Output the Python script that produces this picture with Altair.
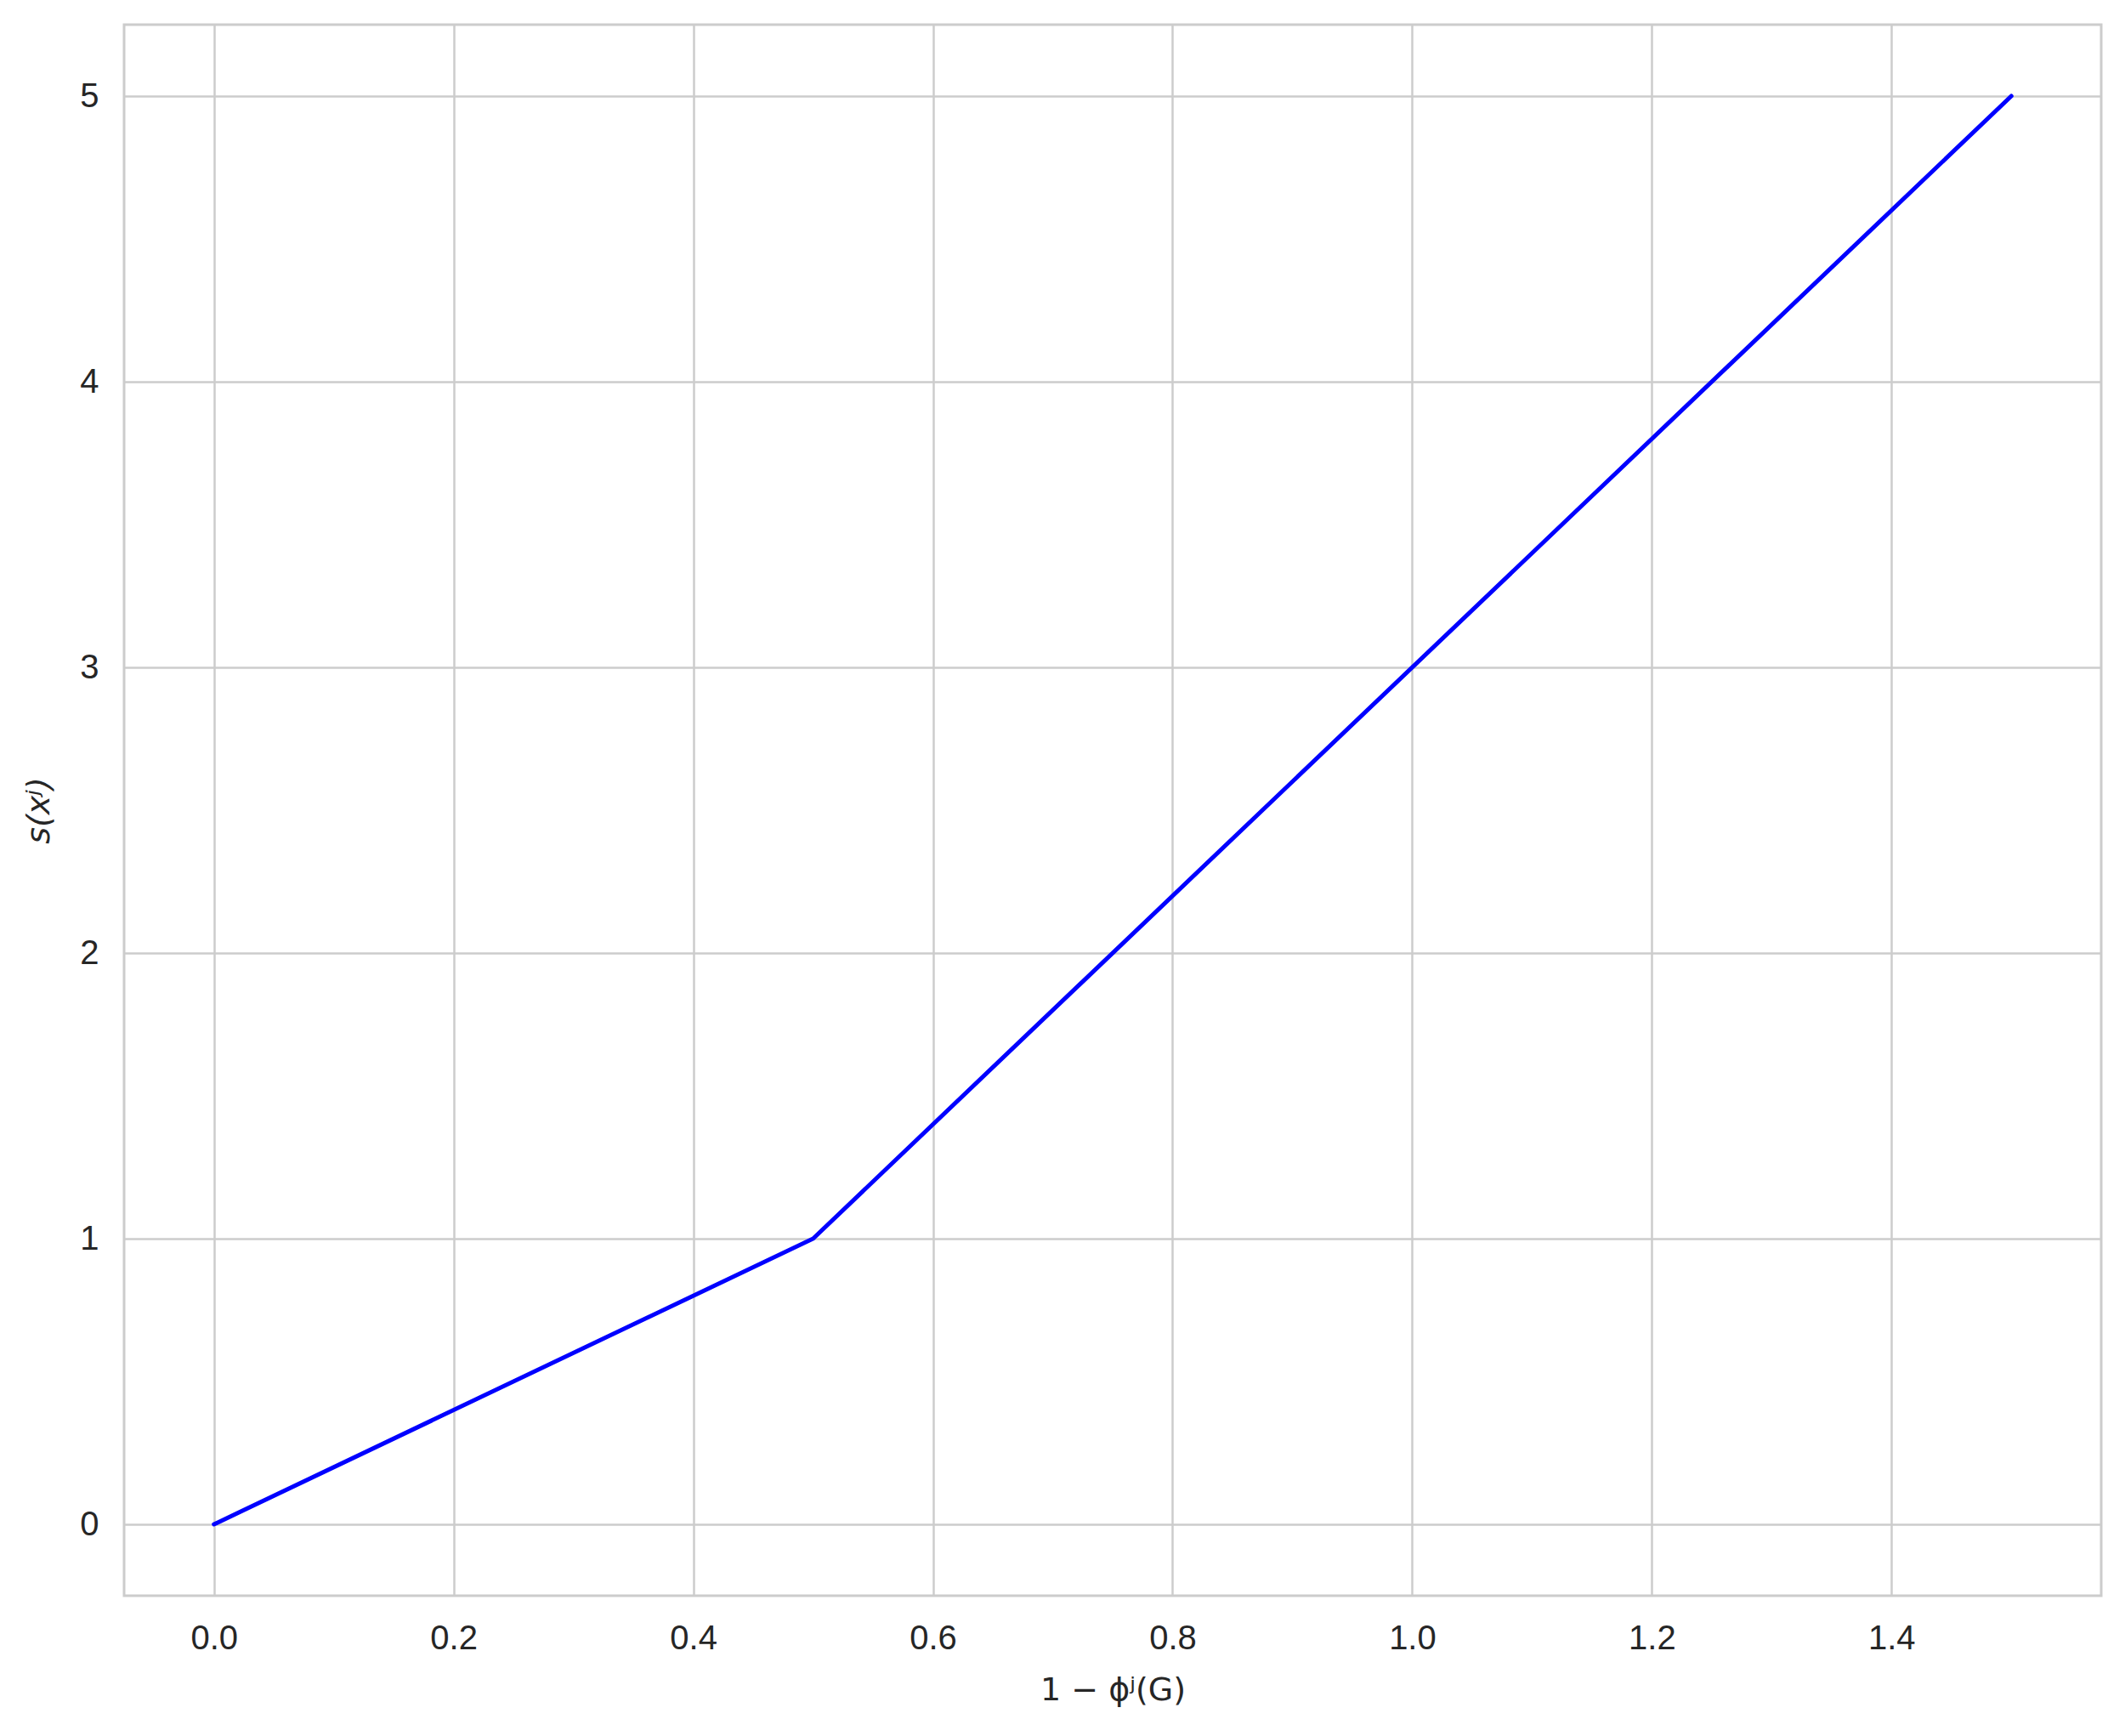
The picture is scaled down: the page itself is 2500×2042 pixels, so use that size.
import altair as alt
import pandas as pd

xs = [0.0, 0.5, 1.5]
ys = [0.0, 1.0, 5.0]
x_ticks = [0.0, 0.2, 0.4, 0.6, 0.8, 1.0, 1.2, 1.4]
y_ticks = [0, 1, 2, 3, 4, 5]

df = pd.DataFrame({"x": xs, "y": ys})

chart = alt.Chart(df).mark_line(color="#0000ff", strokeWidth=5, strokeCap="round").encode(
    x=alt.X("x:Q", scale=alt.Scale(domain=[-0.075, 1.575], nice=False, zero=False),
            axis=alt.Axis(values=x_ticks, format=".1f", title="1 − ϕʲ(G)",
                          titleFont="DejaVu Sans", titleFontWeight="normal", titleFontSize=38,
                          titlePadding=22)),
    y=alt.Y("y:Q", scale=alt.Scale(domain=[-0.25, 5.25], nice=False, zero=False),
            axis=alt.Axis(values=y_ticks, format="d", title="s(xʲ)",
                          titleFont="DejaVu Sans", titleFontWeight="normal", titleFontSize=38,
                          titleFontStyle="italic", titlePadding=28)),
).properties(
    width=2326, height=1848,
    autosize=alt.AutoSizeParams(type="none"),
    padding={"left": 138, "top": 21, "right": 20, "bottom": 150},
).configure_axis(
    grid=True, gridColor="#cccccc", gridWidth=2.5,
    domain=False, ticks=False, labelPadding=30,
    labelFont="Liberation Sans", labelFontSize=40, labelColor="#262626",
    titleColor="#262626",
).configure_view(
    stroke="#cccccc", strokeWidth=3,
)

chart.save("out.html", embed_options={"renderer": "svg", "actions": False})
